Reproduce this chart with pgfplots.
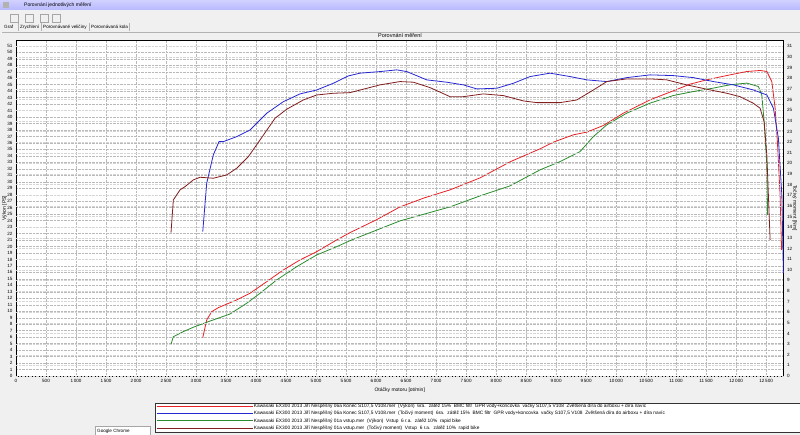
\documentclass[border=0pt]{standalone}
\usepackage{fontspec}
\setmainfont{Liberation Sans}
\usepackage{pgfplots}
\pgfplotsset{compat=1.18}

\definecolor{winbg}{RGB}{240,240,240}
\definecolor{pwrA}{RGB}{230,34,38}
\definecolor{trqA}{RGB}{40,40,210}
\definecolor{pwrB}{RGB}{40,140,45}
\definecolor{trqB}{RGB}{130,30,30}
\definecolor{gridc}{RGB}{185,185,185}

% 06a Konec - vykon [PS]
\pgfplotstableread{
rpm val
3112 5.92
3178 8.66
3262 9.94
3372 10.56
3678 11.75
3900 12.78
4178 14.57
4455 16.38
4733 17.93
5012 19.21
5345 21.02
5567 22.15
6000 24.10
6400 26.12
6800 27.50
7233 28.75
7733 30.60
8233 33.08
8733 35.09
8955 36.12
9288 37.25
9512 37.67
9788 38.69
10122 40.60
10567 42.66
10955 44.05
11233 45.08
11512 45.75
11845 46.41
12178 47.03
12400 47.19
12512 47.03
12595 45.49
12650 41.38
12688 36.21
12733 27.98
12758 19.47
}\pwrA

% 06a Konec - tocivy moment [Nm]
\pgfplotstableread{
rpm val
3112 13.57
3178 18.13
3288 20.79
3383 22.04
3455 22.04
3678 22.51
3900 23.14
4178 24.71
4455 25.80
4733 26.53
5012 26.90
5288 27.53
5538 28.22
5733 28.48
6067 28.63
6345 28.79
6512 28.63
6845 27.85
7178 27.63
7455 27.38
7678 27.00
8012 27.06
8288 27.53
8567 28.16
8900 28.48
9233 28.16
9512 27.85
9845 27.69
10178 28.06
10567 28.32
10955 28.25
11288 28.06
11622 27.69
11955 27.38
12288 26.90
12512 26.43
12622 25.18
12705 22.36
12762 17.03
12788 9.69
}\trqA

% 01a vstup - vykon [PS]
\pgfplotstableread{
rpm val
2583 4.90
2622 6.07
2788 6.85
2955 7.53
3205 8.39
3567 9.58
3845 11.24
4067 12.78
4345 14.84
4678 16.89
5012 18.70
5345 19.98
5595 21.02
6000 22.50
6400 23.96
6800 25.00
7233 26.12
7733 27.82
8233 29.37
8733 31.84
9067 33.12
9400 34.67
9622 36.99
9845 38.79
10178 40.60
10567 42.15
10955 43.32
11288 43.94
11622 44.47
11900 44.98
12178 45.24
12372 44.71
12428 43.43
12467 39.31
12512 32.61
12525 24.88
}\pwrB

% 01a vstup - tocivy moment [Nm]
\pgfplotstableread{
rpm val
2583 13.48
2622 16.56
2733 17.50
2817 17.81
2955 18.44
3067 18.69
3288 18.60
3512 18.91
3678 19.54
3872 20.63
4067 22.20
4317 24.24
4512 25.09
4788 25.96
5012 26.43
5288 26.59
5567 26.65
6067 27.38
6400 27.69
6622 27.63
6900 27.12
7233 26.27
7455 26.27
7788 26.53
8122 26.37
8455 25.87
8678 25.71
9067 25.71
9345 25.96
9622 26.90
9845 27.69
10178 27.94
10567 27.94
10845 27.85
11178 27.38
11512 26.97
11845 26.59
12067 26.27
12288 25.65
12400 25.18
12467 23.92
12512 20.79
12538 17.03
12567 12.79
}\trqB

\pgfplotsset{
  dynoaxis/.style={
    at={(16pt,59pt)}, anchor=south west,
    scale only axis, width=767.5pt, height=336pt,
    xmin=0, xmax=12790,
    scaled ticks=false,
    tick label style={font=\fontsize{4.6}{5}\selectfont},
    label style={font=\fontsize{5}{6}\selectfont},
    major tick length=0pt,
    /pgf/number format/assume math mode=true,
    /pgf/number format/1000 sep={\,},
    clip=false,
  },
}

\begin{document}
\begin{tikzpicture}
\clip (0pt,0pt) rectangle (800pt,435pt);
\begin{scope}[x=1pt,y=1pt]
\fill[winbg] (0,0) rectangle (800,435);
% window chrome
\shade[top color=blue!18!white, bottom color=blue!28!white] (0,425) rectangle (800,435);
\node[anchor=west,font=\fontsize{5}{6}\selectfont,inner sep=0] at (24,430) {Porovnání jednotlivých měření};
\fill[gray!60] (3,427) rectangle (9,433);
\foreach \xx in {10,25,40,52} \draw[gray!70] (\xx,413) rectangle (\xx+8,421);
\draw[gray!60] (2,403) -- (800,403);
\node[anchor=west,font=\fontsize{4.6}{5}\selectfont,inner sep=0] at (4,408) {Graf};
\node[anchor=west,font=\fontsize{4.6}{5}\selectfont,inner sep=0] at (20,408) {Zrychlení};
\node[anchor=west,font=\fontsize{4.6}{5}\selectfont,inner sep=0] at (43,408) {Porovnávané veličiny};
\node[anchor=west,font=\fontsize{4.6}{5}\selectfont,inner sep=0] at (91,408) {Porovnávaná kola};
\draw[gray!60] (18,404) -- (18,412) (41,404) -- (41,412) (89,404) -- (89,412) (129,404) -- (129,412);
\node[font=\fontsize{5.5}{6}\selectfont,inner sep=0] at (400,399) {Porovnání měření};
\end{scope}

% left axis: power
\begin{axis}[
  dynoaxis,
  ymin=0, ymax=51.9,
  xtick={0,500,...,12500},
  ytick={0,1,...,51},
  axis background/.style={fill=white},
  xmajorgrids, ymajorgrids,
  grid style={gridc, densely dotted, line width=0.4pt},
  axis line style={black, line width=0.8pt},
  xlabel={Otáčky motoru [ot/min]},
  ylabel={Výkon [PS]},
  xlabel style={at={(axis description cs:0.5,-0.025)}, anchor=north},
  ylabel style={at={(axis description cs:-0.0148,0.5)}, anchor=center},
]
\addplot[pwrA, line width=0.8pt] table[x=rpm,y=val] {\pwrA};
\addplot[pwrB, line width=0.8pt] table[x=rpm,y=val] {\pwrB};
\end{axis}

% right axis: torque
\begin{axis}[
  dynoaxis,
  ymin=0, ymax=31.6,
  axis x line=none,
  axis y line*=right,
  ytick={0,1,...,31},
  ymajorgrids,
  grid style={gridc!60, densely dotted, line width=0.3pt},
  axis line style={black, line width=0.8pt},
  ylabel={Točivý moment [Nm]},
  ylabel style={rotate=180, at={(axis description cs:1.0145,0.5)}, anchor=center},
  legend style={at={(0.1811,-0.0804)}, anchor=north west,
    font=\fontsize{4.8}{5}\selectfont, draw=black!80, fill=white,
    inner xsep=1pt, inner ysep=0.5pt, row sep=0.6pt,
    nodes={inner sep=0.7pt},
    cells={anchor=west}},
  legend image code/.code={\draw[#1,line width=1pt] (0pt,0pt) -- (96pt,0pt);},
]
\addplot[trqA, line width=0.8pt, forget plot] table[x=rpm,y=val] {\trqA};
\addplot[trqB, line width=0.8pt, forget plot] table[x=rpm,y=val] {\trqB};
\addlegendimage{pwrA}
\addlegendentry{\makebox[560pt][l]{Kawasaki EX300 2013 Jiří Nespěšný 06a Konec S107,5 V108.mer \ (Výkon) \ 6ra. \ zátěž 15\% \ BMC filtr \ GPR vody+koncovka \ vačky S107,5 V108 \ Zvětšená díra do airboxu + díra navíc}}
\addlegendimage{trqA}
\addlegendentry{Kawasaki EX300 2013 Jiří Nespěšný 06a Konec S107,5 V108.mer \ (Točivý moment) \ 6ra. \ zátěž 15\% \ BMC filtr \ GPR vody+koncovka \ vačky S107,5 V108 \ Zvětšená díra do airboxu + díra navíc}
\addlegendimage{pwrB}
\addlegendentry{Kawasaki EX300 2013 Jiří Nespěšný 01a vstup.mer \ (Výkon) \ Vstup \ 6 r.a. \ zátěž 10\% \ rapid bike}
\addlegendimage{trqB}
\addlegendentry{Kawasaki EX300 2013 Jiří Nespěšný 01a vstup.mer \ (Točivý moment) \ Vstup \ 6 r.a. \ zátěž 10\% \ rapid bike}
\end{axis}

% taskbar tooltip
\begin{scope}[x=1pt,y=1pt]
\draw[gray!70, fill=white] (95,-2) rectangle (150,9);
\node[anchor=west,font=\fontsize{4.6}{5}\selectfont,inner sep=0] at (97,4) {Google Chrome};
\end{scope}
\end{tikzpicture}
\end{document}
